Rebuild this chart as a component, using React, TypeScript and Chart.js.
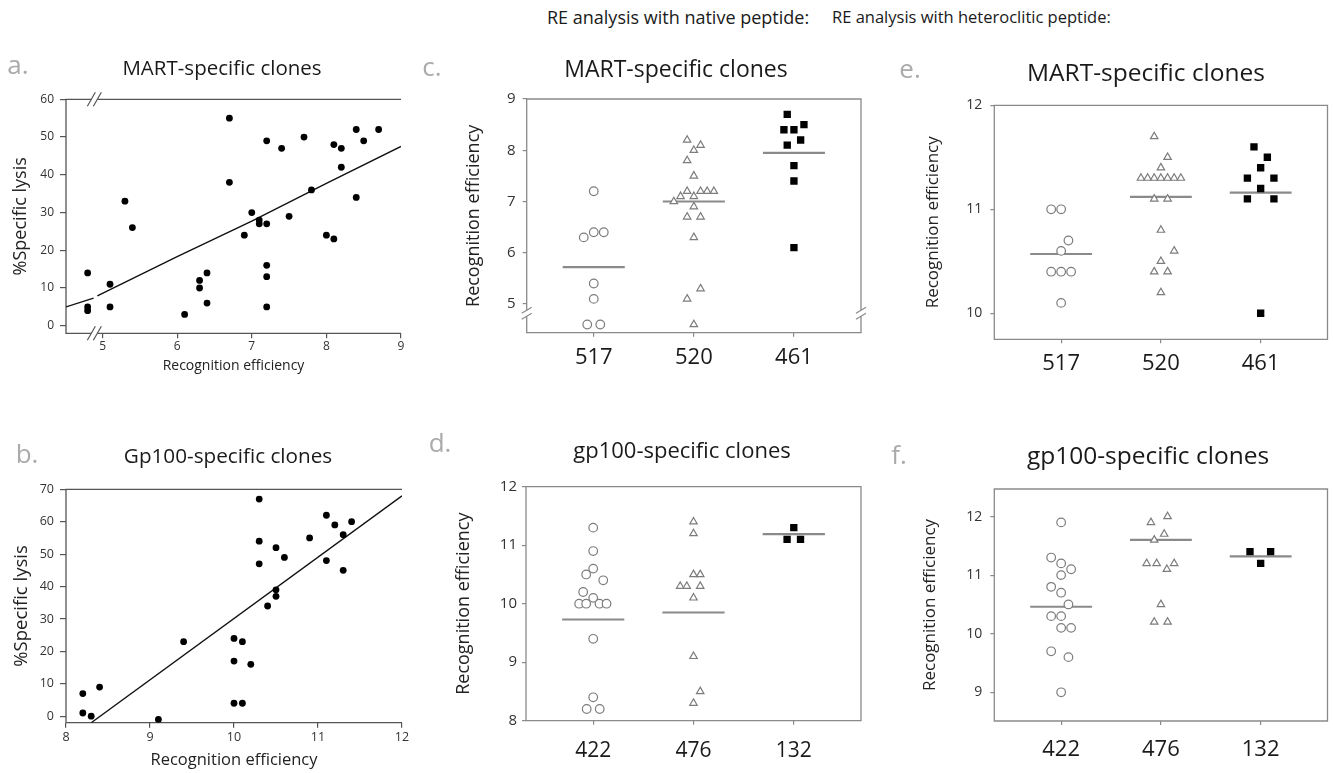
import React, { useEffect, useRef } from "react";
import { Chart, registerables } from "chart.js";
Chart.register(...registerables);

const FONT = "'Open Sans', 'Noto Sans', sans-serif";

// ---------- Panel a: MART-specific clones (scatter) ----------
const A_RE = [4.8, 4.8, 4.8, 5.1, 5.1, 5.3, 5.4, 6.1, 6.3, 6.3, 6.4, 6.4, 6.7, 6.7, 6.9, 7.0, 7.1, 7.1, 7.2, 7.2, 7.2, 7.2, 7.2, 7.4, 7.5, 7.7, 7.8, 8.0, 8.1, 8.1, 8.2, 8.2, 8.4, 8.4, 8.5, 8.7];
const A_LYSIS = [14, 5, 4, 11, 5, 33, 26, 3, 12, 10, 14, 6, 55, 38, 24, 30, 28, 27, 49, 27, 16, 13, 5, 47, 29, 50, 36, 24, 23, 48, 47, 42, 52, 34, 49, 52];
const A_FIT1_X = [4.51, 4.88];
const A_FIT1_Y = [5.0, 7.3];
const A_FIT2_X = [4.93, 6, 7, 8, 9];
const A_FIT2_Y = [7.9, 18.3, 27.7, 37.7, 47.5];
const A_X_TICKS = [5, 6, 7, 8, 9];
const A_Y_TICKS = [0, 10, 20, 30, 40, 50, 60];

// ---------- Panel b: Gp100-specific clones (scatter) ----------
const B_RE = [8.2, 8.2, 8.3, 8.4, 9.1, 9.4, 10.0, 10.0, 10.0, 10.1, 10.1, 10.2, 10.3, 10.3, 10.3, 10.4, 10.5, 10.5, 10.5, 10.6, 10.9, 11.1, 11.1, 11.2, 11.3, 11.3, 11.4];
const B_LYSIS = [7, 1, 0, 9, -1, 23, 24, 17, 4, 23, 4, 16, 67, 54, 47, 34, 52, 39, 37, 49, 55, 62, 48, 59, 56, 45, 60];
const B_FIT_X = [8.3, 12];
const B_FIT_Y = [-2, 68];
const B_X_TICKS = [8, 9, 10, 11, 12];
const B_Y_TICKS = [0, 10, 20, 30, 40, 50, 60, 70];

// ---------- Panel c: native peptide, MART ----------
const C_CATS = ["517", "520", "461"];
const C_517 = [7.2, 6.3, 6.4, 6.4, 5.4, 5.1, 4.6, 4.6];
const C_517_DX = [0, -0.1, 0, 0.1, 0, 0, -0.065, 0.065];
const C_520 = [8.2, 8.1, 8.0, 7.8, 7.5, 7.2, 7.2, 7.2, 7.2, 7.1, 7.1, 7.0, 6.9, 6.7, 6.7, 6.3, 5.3, 5.1, 4.6];
const C_520_DX = [-0.067, 0.067, 0, -0.067, 0, -0.067, 0.067, 0.133, 0.2, -0.133, 0, -0.2, 0, -0.067, 0.067, 0, 0.067, -0.067, 0];
const C_461 = [8.7, 8.5, 8.4, 8.4, 8.2, 8.1, 7.7, 7.4, 6.1];
const C_461_DX = [-0.067, 0.1, -0.1, 0, 0.067, -0.067, 0, 0, 0];
const C_MEDIANS = [5.72, 7.0, 7.95];
const C_Y_TICKS = [5, 6, 7, 8, 9];

// ---------- Panel d: native peptide, gp100 ----------
const D_CATS = ["422", "476", "132"];
const D_422 = [11.3, 10.9, 10.6, 10.5, 10.4, 10.2, 10.1, 10.0, 10.0, 10.0, 10.0, 9.4, 8.4, 8.2, 8.2];
const D_422_DX = [0, 0, 0, -0.07, 0.1, -0.1, 0, -0.14, -0.07, 0.063, 0.133, 0, 0, -0.065, 0.065];
const D_476 = [11.4, 11.2, 10.5, 10.5, 10.3, 10.3, 10.3, 10.1, 9.1, 8.5, 8.3];
const D_476_DX = [0, 0, 0, 0.067, -0.133, -0.067, 0.067, 0, 0, 0.067, 0];
const D_132 = [11.3, 11.1, 11.1];
const D_132_DX = [0, -0.067, 0.067];
const D_MEDIANS = [9.73, 9.85, 11.19];
const D_Y_TICKS = [8, 9, 10, 11, 12];

// ---------- Panel e: heteroclitic peptide, MART ----------
const E_CATS = ["517", "520", "461"];
const E_517 = [11.0, 11.0, 10.7, 10.6, 10.4, 10.4, 10.4, 10.1];
const E_517_DX = [-0.1, 0, 0.073, 0, -0.1, 0, 0.1, 0];
const E_520 = [11.7, 11.5, 11.4, 11.3, 11.3, 11.3, 11.3, 11.3, 11.3, 11.3, 11.1, 11.1, 10.8, 10.6, 10.5, 10.4, 10.4, 10.2];
const E_520_DX = [-0.067, 0.067, 0, -0.2, -0.133, -0.067, 0, 0.067, 0.133, 0.2, -0.067, 0.067, 0, 0.133, 0, -0.067, 0.067, 0];
const E_461 = [11.6, 11.5, 11.4, 11.3, 11.3, 11.2, 11.1, 11.1, 10.0];
const E_461_DX = [-0.067, 0.067, 0, -0.133, 0.133, 0, -0.133, 0.133, 0];
const E_MEDIANS = [10.57, 11.12, 11.16];
const E_Y_TICKS = [10, 11, 12];

// ---------- Panel f: heteroclitic peptide, gp100 ----------
const F_CATS = ["422", "476", "132"];
const F_422 = [11.9, 11.3, 11.2, 11.1, 11.0, 10.8, 10.7, 10.5, 10.3, 10.3, 10.1, 10.1, 9.7, 9.6, 9.0];
const F_422_DX = [0, -0.1, 0, 0.1, 0, -0.1, 0, 0.073, -0.1, 0, 0, 0.1, -0.1, 0.073, 0];
const F_476 = [12.0, 11.9, 11.7, 11.6, 11.2, 11.2, 11.2, 11.1, 10.5, 10.2, 10.2];
const F_476_DX = [0.067, -0.1, 0.033, -0.067, -0.143, -0.043, 0.133, 0.06, 0, -0.067, 0.067];
const F_132 = [11.4, 11.4, 11.2];
const F_132_DX = [-0.107, 0.1, 0];
const F_MEDIANS = [10.46, 11.6, 11.32];
const F_Y_TICKS = [9, 10, 11, 12];

const CAT_TICKS = [1, 2, 3];

// ---------- helpers ----------
const pairs = (xs: number[], ys: number[]) => xs.map((x, i) => ({ x, y: ys[i] }));
const group = (vals: number[], dx: number[], cat: number) => vals.map((v, i) => ({ x: cat + dx[i], y: v }));
const MED_HALF = 0.31;

const GRAY = "#7c7c7c";
const dotStyle = { pointStyle: "circle", pointRadius: 3.4, backgroundColor: "#000", borderColor: "#000", borderWidth: 0, showLine: false };
const circleStyle = { pointStyle: "circle", pointRadius: 4.3, backgroundColor: "#fff", borderColor: GRAY, borderWidth: 1.2, showLine: false };
const triStyle = { pointStyle: "triangle", pointRadius: 4.3, backgroundColor: "#fff", borderColor: GRAY, borderWidth: 1.2, showLine: false };
const sqStyle = { pointStyle: "rect", pointRadius: 5.2, backgroundColor: "#000", borderColor: "#000", borderWidth: 0, showLine: false };
const fitStyle = { showLine: true, pointRadius: 0, borderColor: "#111", borderWidth: 1.4, tension: 0, fill: false };
const medStyle = { showLine: true, pointRadius: 0, borderColor: "#8a8a8a", borderWidth: 2.2, tension: 0, fill: false };

function dotPlotDatasets(groups: [number[], number[]][], medians: number[]) {
  const styles = [circleStyle, triStyle, sqStyle];
  const ds: any[] = groups.map((g, i) => ({ ...styles[i], data: group(g[0], g[1], i + 1) }));
  medians.forEach((m, i) => {
    ds.push({ ...medStyle, data: [{ x: i + 1 - MED_HALF, y: m }, { x: i + 1 + MED_HALF, y: m }] });
  });
  return ds;
}

type Spec = {
  box: [number, number, number, number];
  area: [number, number, number, number];
  x: { min: number; max: number; ticks: number[]; labels?: string[]; size: number; pad: number; len: number; color: string };
  y: { min: number; max: number; ticks: number[]; size: number; pad: number; len: number };
  xTitle?: { text: string; size: number; y: number };
  yTitle: { text: string; size: number; x: number };
  datasets: any[];
  box4: boolean;
  frameColor: string;
  xBreak?: number;
  yBreak?: number;
};

const SPECS: Spec[] = [
  {
    box: [0, 80, 415, 300],
    area: [66, 99.3, 401, 333.3],
    x: { min: 4.51, max: 9, ticks: A_X_TICKS, size: 12, pad: 1, len: 5, color: "#333" },
    y: { min: -2, max: 60, ticks: A_Y_TICKS, size: 12, pad: 6, len: 6 },
    xTitle: { text: "Recognition efficiency", size: 14, y: 366 },
    yTitle: { text: "%Specific lysis", size: 18, x: 20.7 },
    datasets: [
      { ...dotStyle, data: pairs(A_RE, A_LYSIS) },
      { ...fitStyle, data: pairs(A_FIT1_X, A_FIT1_Y) },
      { ...fitStyle, data: pairs(A_FIT2_X, A_FIT2_Y) },
    ],
    box4: false,
    frameColor: "#555",
    xBreak: 4.89,
  },
  {
    box: [0, 470, 415, 303],
    area: [66, 489.3, 402, 722.7],
    x: { min: 8, max: 12, ticks: B_X_TICKS, size: 12.5, pad: 2, len: 5, color: "#333" },
    y: { min: -2, max: 70, ticks: B_Y_TICKS, size: 12.5, pad: 6, len: 6 },
    xTitle: { text: "Recognition efficiency", size: 16.5, y: 760 },
    yTitle: { text: "%Specific lysis", size: 18.5, x: 21.7 },
    datasets: [
      { ...dotStyle, data: pairs(B_RE, B_LYSIS) },
      { ...fitStyle, data: pairs(B_FIT_X, B_FIT_Y) },
    ],
    box4: false,
    frameColor: "#555",
  },
  {
    box: [420, 80, 450, 300],
    area: [526.7, 99, 861, 332.7],
    x: { min: 0.33, max: 3.67, ticks: CAT_TICKS, labels: C_CATS, size: 22, pad: 8, len: 4, color: "#1a1a1a" },
    y: { min: 4.44, max: 9, ticks: C_Y_TICKS, size: 15, pad: 7, len: 4 },
    yTitle: { text: "Recognition efficiency", size: 18, x: 474 },
    datasets: dotPlotDatasets([[C_517, C_517_DX], [C_520, C_520_DX], [C_461, C_461_DX]], C_MEDIANS),
    box4: true,
    frameColor: "#8a8a8a",
    yBreak: 4.82,
  },
  {
    box: [420, 470, 450, 303],
    area: [526, 486.7, 861, 720.7],
    x: { min: 0.33, max: 3.67, ticks: CAT_TICKS, labels: D_CATS, size: 21, pad: 14, len: 4, color: "#1a1a1a" },
    y: { min: 8, max: 12, ticks: D_Y_TICKS, size: 15, pad: 5, len: 4 },
    yTitle: { text: "Recognition efficiency", size: 18, x: 464 },
    datasets: dotPlotDatasets([[D_422, D_422_DX], [D_476, D_476_DX], [D_132, D_132_DX]], D_MEDIANS),
    box4: true,
    frameColor: "#8a8a8a",
  },
  {
    box: [890, 80, 443, 300],
    area: [994.3, 105.3, 1328.3, 339.3],
    x: { min: 0.33, max: 3.67, ticks: CAT_TICKS, labels: E_CATS, size: 22, pad: 7, len: 4, color: "#1a1a1a" },
    y: { min: 9.75, max: 12, ticks: E_Y_TICKS, size: 14, pad: 8, len: 4 },
    yTitle: { text: "Recognition efficiency", size: 17, x: 933 },
    datasets: dotPlotDatasets([[E_517, E_517_DX], [E_520, E_520_DX], [E_461, E_461_DX]], E_MEDIANS),
    box4: true,
    frameColor: "#8a8a8a",
  },
  {
    box: [890, 470, 443, 303],
    area: [994.3, 489, 1328.3, 721],
    x: { min: 0.33, max: 3.67, ticks: CAT_TICKS, labels: F_CATS, size: 22, pad: 12, len: 4, color: "#1a1a1a" },
    y: { min: 8.51, max: 12.47, ticks: F_Y_TICKS, size: 14, pad: 8, len: 4 },
    yTitle: { text: "Recognition efficiency", size: 17, x: 930 },
    datasets: dotPlotDatasets([[F_422, F_422_DX], [F_476, F_476_DX], [F_132, F_132_DX]], F_MEDIANS),
    box4: true,
    frameColor: "#8a8a8a",
  },
];

const TEXTS: { t: string; x: number; y: number; s: number; c?: string; left?: boolean }[] = [
  { t: "RE analysis with native peptide:", x: 547, y: 17, s: 18, left: true },
  { t: "RE analysis with heteroclitic peptide:", x: 832, y: 17, s: 16.5, left: true },
  { t: "a.", x: 18, y: 64, s: 26, c: "#aaa" },
  { t: "MART-specific clones", x: 222, y: 67, s: 20.5 },
  { t: "b.", x: 27, y: 453, s: 26, c: "#aaa" },
  { t: "Gp100-specific clones", x: 228, y: 455, s: 20.7 },
  { t: "c.", x: 432, y: 66, s: 26, c: "#aaa" },
  { t: "MART-specific clones", x: 676, y: 68, s: 23 },
  { t: "d.", x: 440, y: 442, s: 26, c: "#aaa" },
  { t: "gp100-specific clones", x: 682, y: 449, s: 22 },
  { t: "e.", x: 910, y: 68, s: 26, c: "#aaa" },
  { t: "MART-specific clones", x: 1146, y: 72, s: 24.5 },
  { t: "f.", x: 899, y: 454, s: 26, c: "#aaa" },
  { t: "gp100-specific clones", x: 1148, y: 455, s: 24.5 },
];

function makeFramePlugin(s: Spec) {
  return {
    id: "frame",
    beforeDatasetsDraw(chart: any) {
      const { ctx, chartArea } = chart;
      const { left, top, right, bottom } = chartArea;
      ctx.save();
      ctx.strokeStyle = s.frameColor;
      ctx.lineWidth = 1.3;
      ctx.beginPath();
      if (s.box4) {
        ctx.rect(left, top, right - left, bottom - top);
      } else {
        ctx.moveTo(right, top);
        ctx.lineTo(left, top);
        ctx.lineTo(left, bottom);
        ctx.lineTo(right, bottom);
      }
      ctx.stroke();
      ctx.restore();
    },
    afterDraw(chart: any) {
      const { ctx, chartArea } = chart;
      const { left, top, right, bottom } = chartArea;
      ctx.save();
      ctx.lineWidth = 1.2;
      ctx.strokeStyle = s.frameColor;
      if (s.xBreak !== undefined) {
        const px = chart.scales.x.getPixelForValue(s.xBreak);
        [top, bottom].forEach((py) => {
          ctx.fillStyle = "#fff";
          ctx.fillRect(px - 3, py - 2, 6, 4);
          ctx.beginPath();
          [-3, 3].forEach((o) => {
            ctx.moveTo(px + o - 4, py + 7);
            ctx.lineTo(px + o + 4, py - 7);
          });
          ctx.stroke();
        });
      }
      if (s.yBreak !== undefined) {
        const py = chart.scales.y.getPixelForValue(s.yBreak);
        [left, right].forEach((px) => {
          ctx.fillStyle = "#fff";
          ctx.fillRect(px - 2, py - 3, 4, 6);
          ctx.beginPath();
          [-3, 3].forEach((o) => {
            ctx.moveTo(px - 5, py + o + 3);
            ctx.lineTo(px + 5, py + o - 3);
          });
          ctx.stroke();
        });
      }
      ctx.restore();
    },
  };
}

function buildChart(canvas: HTMLCanvasElement, s: Spec) {
  const [cl, ct, cw, ch] = s.box;
  const [l, t, r, b] = s.area;
  const yW = l - cl;
  const xH = ct + ch - b;
  const yLH = s.yTitle.size * 1.2;
  const xLH = s.xTitle ? s.xTitle.size * 1.2 : 0;
  return new Chart(canvas, {
    type: "scatter",
    data: { datasets: s.datasets },
    options: {
      animation: false,
      responsive: false,
      maintainAspectRatio: false,
      events: [],
      layout: { padding: { left: 0, top: t - ct, right: cl + cw - r, bottom: 0 } },
      plugins: { legend: { display: false }, tooltip: { enabled: false } },
      scales: {
        x: {
          type: "linear",
          position: "bottom",
          min: s.x.min,
          max: s.x.max,
          afterFit: (sc: any) => {
            sc.height = xH;
          },
          afterBuildTicks: (sc: any) => {
            sc.ticks = s.x.ticks.map((v) => ({ value: v }));
          },
          ticks: {
            autoSkip: false,
            maxRotation: 0,
            padding: s.x.pad,
            color: s.x.color,
            font: { family: FONT, size: s.x.size },
            callback: (v: any) => (s.x.labels ? s.x.labels[Number(v) - 1] : String(v)),
          },
          grid: { display: true, drawOnChartArea: false, drawTicks: true, tickLength: s.x.len, color: s.frameColor, lineWidth: 1.2 },
          border: { display: false },
          title: s.xTitle
            ? {
                display: true,
                text: s.xTitle.text,
                color: "#222",
                font: { family: FONT, size: s.xTitle.size },
                padding: { top: 0, bottom: ct + ch - s.xTitle.y - xLH / 2 },
              }
            : { display: false },
        },
        y: {
          type: "linear",
          position: "left",
          min: s.y.min,
          max: s.y.max,
          afterFit: (sc: any) => {
            sc.width = yW;
          },
          afterBuildTicks: (sc: any) => {
            sc.ticks = s.y.ticks.map((v) => ({ value: v }));
          },
          ticks: {
            autoSkip: false,
            padding: s.y.pad,
            color: "#333",
            font: { family: FONT, size: s.y.size },
            callback: (v: any) => String(v),
          },
          grid: { display: true, drawOnChartArea: false, drawTicks: true, tickLength: s.y.len, color: s.frameColor, lineWidth: 1.2 },
          border: { display: false },
          title: {
            display: true,
            text: s.yTitle.text,
            color: "#222",
            font: { family: FONT, size: s.yTitle.size },
            padding: { top: s.yTitle.x - cl - yLH / 2, bottom: 0 },
          },
        },
      },
    } as any,
    plugins: [makeFramePlugin(s)],
  });
}

function Panel({ spec }: { spec: Spec }) {
  const ref = useRef<HTMLCanvasElement>(null);
  useEffect(() => {
    if (!ref.current) return;
    const chart = buildChart(ref.current, spec);
    return () => chart.destroy();
  }, [spec]);
  const [l, t, w, h] = spec.box;
  return (
    <canvas
      ref={ref}
      width={w}
      height={h}
      style={{ position: "absolute", left: l, top: t, width: w, height: h }}
    />
  );
}

export default function App() {
  return (
    <div
      style={{
        position: "absolute",
        left: 0,
        top: 0,
        width: 1333,
        height: 773,
        background: "#fff",
        overflow: "hidden",
        fontFamily: FONT,
      }}
    >
      {SPECS.map((s, i) => (
        <Panel key={i} spec={s} />
      ))}
      {TEXTS.map((tx, i) => (
        <div
          key={"t" + i}
          style={{
            position: "absolute",
            left: tx.x,
            top: tx.y,
            transform: tx.left ? "translate(0,-50%)" : "translate(-50%,-50%)",
            fontSize: tx.s,
            lineHeight: 1,
            whiteSpace: "nowrap",
            color: tx.c || "#1a1a1a",
          }}
        >
          {tx.t}
        </div>
      ))}
    </div>
  );
}
